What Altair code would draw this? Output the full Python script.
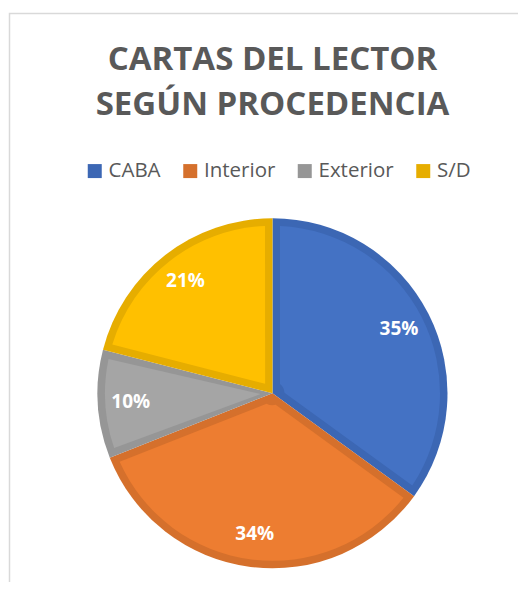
import math
import altair as alt
import pandas as pd

categories = ["CABA", "Interior", "Exterior", "S/D"]
values = [35, 34, 10, 21]
labels = ["35%", "34%", "10%", "21%"]
fill_colors = ["#4472C4", "#ED7D31", "#A5A5A5", "#FFC000"]
edge_colors = ["#3C67B4", "#D5702C", "#969696", "#E6AD00"]
title_lines = ["CARTAS DEL LECTOR", "SEGÚN PROCEDENCIA"]

df = pd.DataFrame({"cat": categories, "val": values, "label": labels,
                   "order": list(range(len(categories)))})

R = 175
EDGE = 7.5
R_IN = R - EDGE
R0 = 12
rp = math.sqrt(R0 ** 2 + R_IN ** 2)
pad = 2 * math.asin(EDGE / rp)

CX, CY = 264.5, 385.3

base = alt.Chart(df).encode(
    theta=alt.Theta("val:Q", stack=True),
    order=alt.Order("order:Q"),
    x=alt.value(CX),
    y=alt.value(CY),
)

outer = base.mark_arc(outerRadius=R, stroke=None).encode(
    color=alt.Color(
        "cat:N",
        scale=alt.Scale(domain=categories, range=edge_colors),
        sort=categories,
        legend=alt.Legend(
            orient="none", legendX=76.5, legendY=152.7, direction="horizontal",
            title=None, symbolType="square", symbolSize=196, symbolStrokeWidth=0,
            labelFont="Open Sans", labelFontSize=20.5, labelColor="#595959",
            columnPadding=18.5, labelOffset=3.5, padding=0,
        ),
    )
)

inner = base.mark_arc(outerRadius=R_IN, innerRadius=R0, padAngle=pad).encode(
    fill=alt.Fill("cat:N", scale=alt.Scale(domain=categories, range=fill_colors), legend=None)
)

text = base.mark_text(radius=142, font="Open Sans", fontSize=19, fontWeight="bold",
                      color="white").encode(text="label:N")

one = pd.DataFrame({"k": [0]})

frame = alt.Chart(one).mark_rect(
    fill=None, stroke="#d9d9d9", strokeWidth=1.5
).encode(x=alt.value(1.5), y=alt.value(5.5), x2=alt.value(900), y2=alt.value(900))

title = alt.Chart(one).mark_text(
    text=title_lines, font="Open Sans", fontSize=33, fontWeight="bold",
    color="#595959", align="center", baseline="alphabetic", lineHeight=45,
).encode(x=alt.value(264.5), y=alt.value(62))

chart = alt.layer(frame, title, outer, inner, text).properties(
    width=510, height=574,
    padding={"left": 0, "top": 0, "right": 0, "bottom": 0},
    autosize=alt.AutoSizeParams(type="none"),
).configure_view(stroke=None)

chart.save("out.html", embed_options={"renderer": "svg", "actions": False})
